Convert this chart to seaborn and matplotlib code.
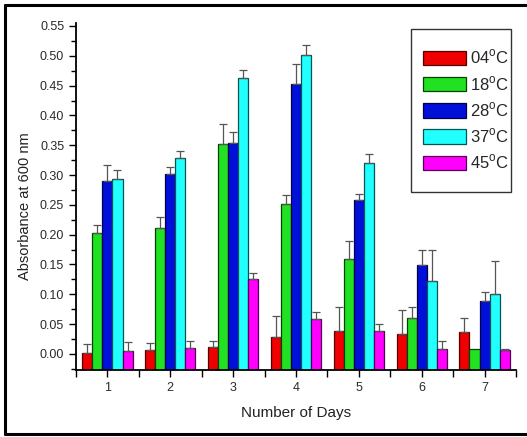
import matplotlib
matplotlib.use("Agg")
import matplotlib.pyplot as plt
from matplotlib.lines import Line2D
from matplotlib.patches import Rectangle
from matplotlib.ticker import MultipleLocator
import seaborn as sns
import pandas as pd
import numpy as np

# ---------------- data ----------------
days = ["1", "2", "3", "4", "5", "6", "7"]
temps = ["04$^{\\mathrm{o}}$C", "18$^{\\mathrm{o}}$C", "28$^{\\mathrm{o}}$C",
         "37$^{\\mathrm{o}}$C", "45$^{\\mathrm{o}}$C"]
vals_04 = [0.002, 0.007, 0.011, 0.029, 0.039, 0.034, 0.036]
vals_18 = [0.203, 0.211, 0.352, 0.252, 0.160, 0.060, 0.008]
vals_28 = [0.290, 0.302, 0.353, 0.452, 0.258, 0.149, 0.088]
vals_37 = [0.293, 0.329, 0.462, 0.501, 0.320, 0.123, 0.100]
vals_45 = [0.005, 0.010, 0.126, 0.059, 0.039, 0.009, 0.006]
err_04 = [0.015, 0.011, 0.011, 0.035, 0.039, 0.040, 0.024]
err_18 = [0.013, 0.019, 0.034, 0.014, 0.030, 0.019, 0.000]
err_28 = [0.026, 0.012, 0.020, 0.034, 0.011, 0.025, 0.015]
err_37 = [0.016, 0.011, 0.014, 0.017, 0.016, 0.051, 0.056]
err_45 = [0.015, 0.012, 0.010, 0.012, 0.011, 0.012, 0.002]
colors = ["#EE0000", "#22E022", "#0010D8", "#22FFFF", "#FF00FF"]
edge_colors = ["#550000", "#004400", "#000044", "#005555", "#550055"]

all_vals = [vals_04, vals_18, vals_28, vals_37, vals_45]
all_errs = [err_04, err_18, err_28, err_37, err_45]

rows = []
for t, vs, es in zip(temps, all_vals, all_errs):
    for d, v, e in zip(days, vs, es):
        rows.append({"Day": d, "Temp": t, "Abs": v, "Err": e})
df = pd.DataFrame(rows)

# ---------------- figure ----------------
sns.set_theme(style="white")
plt.rcParams["font.family"] = ["Liberation Sans", "DejaVu Sans"]
plt.rcParams["mathtext.fontset"] = "custom"
plt.rcParams["mathtext.rm"] = "Liberation Sans"

W, H = 527, 437
fig = plt.figure(figsize=(W / 100, H / 100), dpi=100)
fig.patch.set_facecolor("white")
ax = fig.add_axes([76 / W, 1 - 370 / H, 440 / W, 347 / H])

sns.barplot(data=df, x="Day", y="Abs", hue="Temp", order=days, hue_order=temps,
            palette=colors, width=0.8, gap=0, errorbar=None, saturation=1,
            linewidth=0.9, legend=True, ax=ax)

ymin, ymax = -0.027, 0.555
ax.set_xlim(-0.5, len(days) - 0.5)
ax.set_ylim(ymin, ymax)

# bars extend from the bottom axis (Origin style); add upper error bars
n_days = len(days)
bar_patches = [p for p in ax.patches if isinstance(p, Rectangle)][: n_days * len(temps)]
for i, p in enumerate(bar_patches):
    ti = i // n_days
    di = i % n_days
    top = p.get_y() + p.get_height()
    p.set_y(ymin)
    p.set_height(top - ymin)
    p.set_edgecolor(edge_colors[ti])
    p.set_clip_on(True)
    cx = p.get_x() + p.get_width() / 2
    e = all_errs[ti][di]
    if e > 0:
        ax.errorbar(cx, top, yerr=[[0], [e]], fmt="none", ecolor="#555555",
                    elinewidth=0.9, capsize=2.8, capthick=0.9, zorder=1)

# axes styling
for s in ["top", "right"]:
    ax.spines[s].set_visible(False)
for s in ["left", "bottom"]:
    ax.spines[s].set_color("black")
    ax.spines[s].set_linewidth(1.3)
ax.yaxis.set_major_locator(MultipleLocator(0.05))
ax.yaxis.set_minor_locator(MultipleLocator(0.025))
ax.set_yticks(np.arange(0, 0.551, 0.05))
ax.set_yticklabels([f"{v:.2f}" for v in np.arange(0, 0.551, 0.05)])
ax.set_xticks(np.arange(-0.5, n_days, 1.0), minor=True)
ax.tick_params(axis="both", which="major", direction="out", length=5, width=1,
               color="black", labelsize=9, labelcolor="#2a2a2a", left=True, bottom=True)
ax.tick_params(axis="both", which="minor", direction="out", length=3.5, width=1,
               color="black", left=True, bottom=True)
ax.tick_params(axis="x", which="minor", length=5)

ax.set_xlabel("Number of Days", fontsize=11, color="#222222")
ax.set_ylabel("Absorbance at 600 nm", fontsize=10.5, color="#222222")
ax.xaxis.set_label_coords(0.5, -0.103)
ax.yaxis.set_label_coords(-0.1, 0.472)

# legend
handles, labels = ax.get_legend_handles_labels()
for h, ec in zip(handles, edge_colors):
    h.set_edgecolor(ec)
    h.set_linewidth(0.9)
ax.legend(handles, labels, loc="upper left", bbox_to_anchor=(423 / W, 1 - 48 / H),
          bbox_transform=fig.transFigure, frameon=False, fontsize=12,
          handlelength=2.6, handleheight=0.95, handletextpad=0.25,
          labelspacing=0.45, borderpad=0, borderaxespad=0)
fig.patches.append(Rectangle((411 / W, 1 - 192 / H), 100 / W, 163 / H,
                             transform=fig.transFigure, fill=False,
                             edgecolor="#333333", linewidth=1.0))

# outer frame (left, top, bottom)
lw = 2.2
fig.lines.append(Line2D([5 / W, 5 / W], [1 - 434 / H, 1 - 5 / H], transform=fig.transFigure,
                        color="black", linewidth=lw))
fig.lines.append(Line2D([5 / W, 1], [1 - 5 / H, 1 - 5 / H], transform=fig.transFigure,
                        color="black", linewidth=lw))
fig.lines.append(Line2D([5 / W, 1], [1 - 434 / H, 1 - 434 / H], transform=fig.transFigure,
                        color="black", linewidth=lw))

fig.savefig("out.png", dpi=100)
